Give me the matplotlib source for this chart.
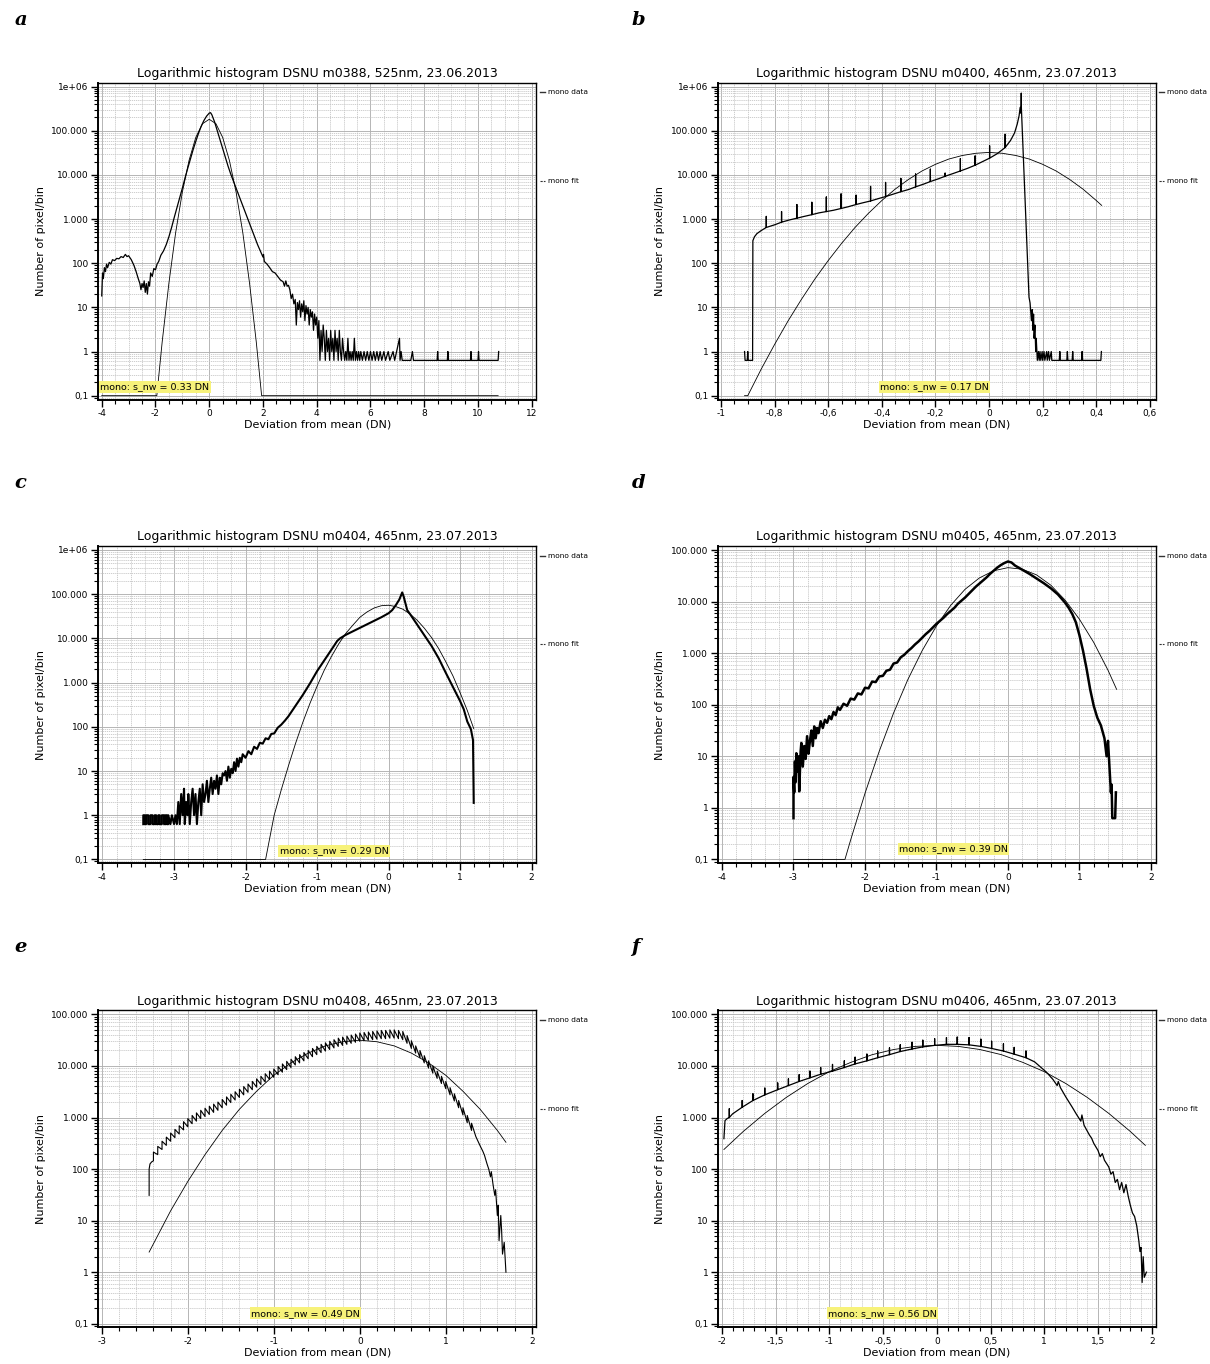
import matplotlib
matplotlib.use('Agg')
import matplotlib.pyplot as plt
from matplotlib.ticker import MultipleLocator, FuncFormatter, LogLocator, NullFormatter
import numpy as np

# Panel titles and fitted noise widths
titles = [
    'Logarithmic histogram DSNU m0388, 525nm, 23.06.2013',
    'Logarithmic histogram DSNU m0400, 465nm, 23.07.2013',
    'Logarithmic histogram DSNU m0404, 465nm, 23.07.2013',
    'Logarithmic histogram DSNU m0405, 465nm, 23.07.2013',
    'Logarithmic histogram DSNU m0408, 465nm, 23.07.2013',
    'Logarithmic histogram DSNU m0406, 465nm, 23.07.2013',
]
panel_letters = ['a', 'b', 'c', 'd', 'e', 'f']
s_nw = ['0.33', '0.17', '0.29', '0.39', '0.49', '0.56']

# All counts are stored as log10(number of pixel/bin)

# ---- a: m0388
a_data_x = [-4.0, -3.97, -3.94, -3.9, -3.86, -3.82, -3.78, -3.72, -3.66, -3.6, -3.52, -3.44, -3.36, -3.28,
            -3.2, -3.12, -3.06, -3.0, -2.9, -2.8, -2.72, -2.64, -2.58, -2.54, -2.5, -2.46, -2.42, -2.38,
            -2.34, -2.3, -2.26, -2.22, -2.18, -2.12, -2.06, -2.0, -1.94, -1.88, -1.8, -1.7, -1.6, -1.5,
            -1.4, -1.3, -1.2, -1.1, -1.0, -0.9, -0.8, -0.7, -0.6, -0.5, -0.4, -0.3, -0.2, -0.1, 0.0, 0.05,
            0.1, 0.2, 0.3, 0.4, 0.5, 0.6, 0.7, 0.8, 0.9, 1.0, 1.1, 1.2, 1.3, 1.4, 1.5, 1.6, 1.7, 1.8,
            1.9, 2.0, 2.02, 2.05, 2.15, 2.25, 2.35, 2.45, 2.55, 2.65, 2.75, 2.8, 2.85, 2.9, 2.95, 3.0,
            3.05, 3.1, 3.15, 3.2, 3.24, 3.28, 3.32, 3.36, 3.4, 3.44, 3.48, 3.52, 3.56, 3.6, 3.64, 3.68,
            3.72, 3.76, 3.8, 3.84, 3.88, 3.92, 3.96, 4.0, 4.04, 4.08, 4.12, 4.16, 4.2, 4.24, 4.28, 4.32,
            4.36, 4.4, 4.44, 4.48, 4.52, 4.56, 4.6, 4.64, 4.68, 4.72, 4.76, 4.8, 4.84, 4.88, 4.92, 4.96,
            5.0, 5.04, 5.08, 5.12, 5.16, 5.2, 5.24, 5.28, 5.32, 5.36, 5.4, 5.44, 5.48, 5.52, 5.56, 5.6,
            5.64, 5.7, 5.76, 5.82, 5.88, 5.94, 6.0, 6.06, 6.12, 6.18, 6.24, 6.3, 6.36, 6.42, 6.5, 6.56,
            6.66, 6.72, 6.84, 6.9, 7.08, 7.1, 7.14, 7.18, 7.5, 7.56, 7.6, 8.48, 8.5, 8.52, 8.86, 8.88,
            8.9, 9.72, 9.74, 9.76, 10.0, 10.02, 10.04, 10.75, 10.77]
a_data_lg = [1.26, 1.78, 1.65, 1.9, 1.81, 1.98, 1.9, 2.02, 1.98, 2.08, 2.06, 2.11, 2.1, 2.15,
             2.13, 2.2, 2.15, 2.17, 2.08, 1.95, 1.81, 1.65, 1.54, 1.4, 1.54, 1.45, 1.6, 1.34,
             1.54, 1.3, 1.58, 1.48, 1.78, 1.7, 1.88, 1.85, 1.98, 2.04, 2.18, 2.28, 2.42, 2.6,
             2.81, 3.04, 3.26, 3.48, 3.7, 3.93, 4.15, 4.36, 4.57, 4.76, 4.94, 5.1, 5.23, 5.33, 5.4, 5.41,
             5.36, 5.2, 5.0, 4.8, 4.6, 4.4, 4.2, 4.02, 3.86, 3.7, 3.54, 3.38, 3.22, 3.06, 2.9, 2.74, 2.58, 2.42,
             2.28, 2.14, 2.2, 2.04, 1.98, 1.9, 1.81, 1.78, 1.7, 1.62, 1.58, 1.48, 1.6, 1.48, 1.5, 1.4,
             1.2, 1.3, 1.08, 1.18, 0.6, 1.11, 0.95, 1.15, 0.78, 1.08, 0.9, 1.15, 0.7, 1.04, 0.85, 1.0,
             0.6, 0.95, 0.78, 0.9, 0.48, 0.85, 0.6, 0.78, 0.3, 0.7, -0.2, 0.48, 0.0, 0.6, 0.3, -0.2,
             0.48, 0.0, 0.3, -0.2, 0.48, 0.0, 0.3, -0.2, 0.48, 0.0, 0.3, -0.2, 0.48, 0.0, -0.2, 0.3,
             0.0, -0.2, 0.0, -0.2, 0.3, -0.2, 0.0, -0.2, 0.0, -0.2, 0.3, -0.2, 0.0, -0.2, 0.0, -0.2,
             0.0, -0.2, 0.0, -0.2, 0.0, -0.2, 0.0, -0.2, 0.0, -0.2, 0.0, -0.2, 0.0, -0.2, 0.0, -0.2,
             0.0, -0.2, 0.0, -0.2, 0.3, -0.2, 0.0, -0.2, -0.2, 0.0, -0.2, -0.2, 0.0, -0.2, -0.2, 0.0,
             -0.2, -0.2, 0.0, -0.2, -0.2, 0.0, -0.2, -0.2, 0.0]
a_fit_x = [-4.0, -1.95, -1.75, -1.5, -1.25, -1.0, -0.75, -0.5, -0.25, 0.0, 0.25, 0.5, 0.75, 1.0,
           1.25, 1.5, 1.75, 1.95, 10.75]
a_fit_lg = [-1.0, -1.0, 0.22, 1.55, 2.69, 3.61, 4.33, 4.85, 5.16, 5.26, 5.16, 4.85, 4.33, 3.61,
            2.69, 1.55, 0.22, -1.0, -1.0]

# ---- b: m0400 (smooth base plus periodic spikes)
b_base_x = [-0.912, -0.91, -0.902, -0.9, -0.898, -0.882, -0.881, -0.875, -0.866, -0.85, -0.831, -0.80,
            -0.774, -0.745, -0.717, -0.69, -0.661, -0.635, -0.607, -0.58, -0.552, -0.525, -0.496, -0.47,
            -0.442, -0.415, -0.386, -0.36, -0.329, -0.30, -0.274, -0.245, -0.219, -0.19, -0.164, -0.135,
            -0.107, -0.08, -0.052, -0.025, 0.002, 0.03, 0.06, 0.08, 0.095, 0.105, 0.112, 0.116, 0.118,
            0.12, 0.149, 0.153, 0.158, 0.161, 0.164, 0.166, 0.168, 0.171, 0.174, 0.176, 0.18, 0.184,
            0.187, 0.19, 0.193, 0.198, 0.2, 0.205, 0.208, 0.215, 0.217, 0.222, 0.225, 0.232, 0.234,
            0.262, 0.264, 0.266, 0.29, 0.292, 0.294, 0.31, 0.312, 0.314, 0.345, 0.347, 0.349, 0.417, 0.419]
b_base_lg = [0.0, -0.2, -0.2, 0.0, -0.2, -0.2, 2.51, 2.6, 2.67, 2.74, 2.81, 2.87,
             2.93, 2.98, 3.02, 3.06, 3.10, 3.14, 3.17, 3.2, 3.24, 3.28, 3.33, 3.37,
             3.41, 3.46, 3.51, 3.56, 3.62, 3.67, 3.73, 3.79, 3.85, 3.91, 3.97, 4.03,
             4.09, 4.15, 4.22, 4.3, 4.38, 4.48, 4.62, 4.78, 4.95, 5.15, 5.34, 5.53, 5.4,
             5.6, 1.23, 1.1, 0.7, 0.95, 0.48, 0.85, 0.3, 0.6, 0.0, 0.3, -0.2, 0.0,
             -0.2, 0.0, -0.2, 0.0, -0.2, 0.0, -0.2, 0.0, -0.2, 0.0, -0.2, 0.0, -0.2,
             -0.2, 0.0, -0.2, -0.2, 0.0, -0.2, -0.2, 0.0, -0.2, -0.2, 0.0, -0.2, -0.2, 0.0]
b_spike_x = [-0.831, -0.774, -0.717, -0.661, -0.607, -0.552, -0.496, -0.442, -0.386, -0.329, -0.274,
             -0.219, -0.164, -0.107, -0.052, 0.002, 0.06, 0.12]
b_spike_lg = [3.06, 3.17, 3.33, 3.38, 3.5, 3.57, 3.54, 3.74, 3.83, 3.92, 4.02,
              4.13, 4.04, 4.37, 4.43, 4.66, 4.92, 5.85]
b_fit_x = [-0.912, -0.9, -0.85, -0.8, -0.75, -0.7, -0.65, -0.6, -0.55, -0.5, -0.45, -0.4, -0.35, -0.3,
           -0.25, -0.2, -0.15, -0.1, -0.05, 0.0, 0.05, 0.1, 0.15, 0.2, 0.25, 0.3, 0.35, 0.4, 0.42]
b_fit_lg = [-1.0, -1.0, -0.4, 0.16, 0.69, 1.18, 1.64, 2.06, 2.45, 2.81, 3.13, 3.42, 3.68, 3.9,
            4.09, 4.24, 4.36, 4.44, 4.49, 4.51, 4.49, 4.44, 4.36, 4.24, 4.09, 3.9, 3.68, 3.42, 3.31]

# ---- c: m0404
c_data_x = [-3.43, -3.43, -3.41, -3.41, -3.39, -3.39, -3.36, -3.36, -3.33, -3.33, -3.3, -3.3, -3.27,
            -3.27, -3.25, -3.25, -3.22, -3.22, -3.2, -3.2, -3.17, -3.17, -3.14, -3.14, -3.12, -3.12,
            -3.1, -3.1, -3.08, -3.08, -3.05, -3.03, -3.0, -2.98, -2.96, -2.94, -2.92, -2.9, -2.88,
            -2.86, -2.85, -2.83, -2.81, -2.8, -2.78, -2.76, -2.74, -2.72, -2.7, -2.68, -2.66, -2.64,
            -2.62, -2.6, -2.58, -2.56, -2.54, -2.52, -2.5, -2.48, -2.46, -2.44, -2.42, -2.4, -2.38,
            -2.36, -2.34, -2.32, -2.3, -2.28, -2.26, -2.24, -2.22, -2.2, -2.18, -2.16, -2.14, -2.12,
            -2.1, -2.08, -2.06, -2.04, -2.0, -1.96, -1.92, -1.88, -1.84, -1.8, -1.76, -1.72, -1.68,
            -1.64, -1.6, -1.55, -1.5, -1.45, -1.4, -1.35, -1.3, -1.25, -1.2, -1.15, -1.1, -1.05, -1.0,
            -0.95, -0.9, -0.85, -0.8, -0.76, -0.72, -0.68, -0.6, -0.5, -0.4, -0.3, -0.2, -0.1, 0.0,
            0.05, 0.1, 0.15, 0.19, 0.21, 0.26, 0.3, 0.4, 0.5, 0.6, 0.7, 0.8, 0.9, 1.0, 1.05, 1.1,
            1.15, 1.18, 1.19]
c_data_lg = [-0.2, 0.0, 0.0, -0.2, -0.2, 0.0, 0.0, -0.2, -0.2, 0.0, 0.0, -0.2, -0.2,
             0.0, 0.0, -0.2, -0.2, 0.0, 0.0, -0.2, -0.2, 0.0, 0.0, -0.2, -0.2, 0.0,
             0.0, -0.2, -0.2, 0.0, -0.2, 0.0, -0.2, 0.0, -0.2, 0.3, -0.2, 0.48, 0.0,
             0.6, -0.2, 0.3, 0.0, 0.48, -0.2, 0.3, 0.6, 0.0, 0.48, -0.2, 0.3, 0.6,
             0.0, 0.7, 0.3, 0.48, 0.78, 0.3, 0.6, 0.85, 0.48, 0.78, 0.6, 0.9, 0.48,
             0.85, 0.7, 0.95, 0.9, 1.0, 0.78, 1.1, 0.85, 1.05, 0.95, 1.2, 1.0, 1.28,
             1.1, 1.3, 1.2, 1.38, 1.3, 1.45, 1.38, 1.55, 1.5, 1.64, 1.62, 1.74, 1.72,
             1.84, 1.85, 1.98, 2.05, 2.14, 2.24, 2.36, 2.48, 2.6, 2.72, 2.85, 2.98, 3.12, 3.26,
             3.38, 3.5, 3.62, 3.74, 3.84, 3.94, 4.0, 4.08, 4.16, 4.24, 4.32, 4.4, 4.48, 4.57,
             4.64, 4.75, 4.88, 5.04, 4.95, 4.64, 4.55, 4.31, 4.07, 3.83, 3.55, 3.22, 2.9, 2.58, 2.4, 2.12,
             1.95, 1.7, 0.28]
c_fit_x = [-3.43, -1.72, -1.6, -1.5, -1.4, -1.3, -1.2, -1.1, -1.0, -0.9, -0.8, -0.7, -0.6, -0.5, -0.4,
           -0.3, -0.2, -0.1, 0.0, 0.1, 0.2, 0.3, 0.4, 0.5, 0.6, 0.7, 0.8, 0.9, 1.0, 1.1, 1.19]
c_fit_lg = [-1.0, -1.0, 0.0, 0.58, 1.12, 1.63, 2.1, 2.53, 2.92, 3.28, 3.59, 3.87, 4.11, 4.3, 4.48,
            4.6, 4.69, 4.74, 4.75, 4.72, 4.66, 4.55, 4.41, 4.23, 4.02, 3.77, 3.47, 3.15, 2.77, 2.37, 1.96]

# ---- d: m0405
d_data_x = [-3.0, -3.0, -2.99, -2.98, -2.97, -2.96, -2.95, -2.93, -2.92, -2.9, -2.89, -2.87, -2.85,
            -2.83, -2.81, -2.79, -2.77, -2.75, -2.73, -2.71, -2.69, -2.67, -2.65, -2.62, -2.59, -2.56,
            -2.53, -2.5, -2.47, -2.44, -2.41, -2.38, -2.35, -2.3, -2.25, -2.2, -2.15, -2.1, -2.05, -2.0,
            -1.95, -1.9, -1.85, -1.8, -1.75, -1.7, -1.65, -1.6, -1.55, -1.5, -1.45, -1.4, -1.35, -1.3,
            -1.25, -1.2, -1.15, -1.1, -1.05, -1.0, -0.95, -0.9, -0.85, -0.8, -0.75, -0.7, -0.65, -0.6,
            -0.55, -0.5, -0.45, -0.4, -0.35, -0.3, -0.25, -0.2, -0.15, -0.1, -0.05, 0.0, 0.05, 0.1,
            0.2, 0.3, 0.4, 0.5, 0.6, 0.7, 0.8, 0.85, 0.9, 0.95, 1.0, 1.05, 1.1, 1.15, 1.2, 1.25, 1.3,
            1.35, 1.38, 1.4, 1.42, 1.44, 1.45, 1.46, 1.5, 1.51]
d_data_lg = [-0.2, 0.6, 0.3, 0.9, 0.5, 1.06, 0.7, 1.0, 0.32, 1.1, 1.26, 0.8, 1.2,
             0.95, 1.39, 1.05, 1.3, 1.5, 1.2, 1.58, 1.35, 1.55, 1.45, 1.68, 1.55, 1.71,
             1.65, 1.78, 1.72, 1.86, 1.8, 1.95, 1.9, 2.02, 1.98, 2.12, 2.1, 2.22, 2.2, 2.33,
             2.32, 2.45, 2.44, 2.55, 2.56, 2.66, 2.68, 2.8, 2.82, 2.92, 2.97, 3.04, 3.1, 3.17,
             3.23, 3.3, 3.37, 3.43, 3.5, 3.57, 3.63, 3.69, 3.76, 3.82, 3.88, 3.96, 4.02, 4.08,
             4.15, 4.22, 4.29, 4.35, 4.41, 4.47, 4.54, 4.6, 4.66, 4.71, 4.75, 4.78, 4.76, 4.7,
             4.62, 4.54, 4.45, 4.36, 4.26, 4.14, 3.98, 3.88, 3.76, 3.6, 3.35, 3.05, 2.7, 2.3, 1.98, 1.75, 1.6,
             1.35, 1.0, 1.3, 0.8, 0.3, 0.45, -0.2, -0.2, 0.3]
d_fit_x = [-3.0, -2.28, -2.2, -2.0, -1.8, -1.6, -1.4, -1.2, -1.0, -0.8, -0.6, -0.4, -0.2, 0.0, 0.2,
           0.4, 0.6, 0.8, 1.0, 1.2, 1.4, 1.52]
d_fit_lg = [-1.0, -1.0, -0.62, 0.28, 1.1, 1.84, 2.49, 3.05, 3.53, 3.93, 4.24, 4.46, 4.6, 4.66, 4.63,
            4.52, 4.32, 4.03, 3.66, 3.21, 2.67, 2.3]

# ---- e: m0408 (comb-like teeth on the data)
e_head_x = [-2.45, -2.45, -2.44, -2.42]
e_head_lg = [1.49, 2.0, 2.1, 2.14]
e_tooth_x = [-2.4, -2.35, -2.3, -2.25, -2.2, -2.15, -2.1, -2.05, -2.0,
             -1.95, -1.9, -1.85, -1.8, -1.75, -1.7, -1.65, -1.6, -1.55, -1.5,
             -1.45, -1.4, -1.35, -1.3, -1.25, -1.2, -1.15, -1.1, -1.05, -1.0,
             -0.95, -0.9, -0.85, -0.8, -0.75, -0.7, -0.65, -0.6, -0.55, -0.5,
             -0.45, -0.4, -0.35, -0.3, -0.25, -0.2, -0.15, -0.1, -0.05, 0.0,
             0.05, 0.1, 0.15, 0.2, 0.25, 0.3, 0.35, 0.4, 0.45, 0.5,
             0.55, 0.6, 0.65, 0.7, 0.75, 0.8, 0.85, 0.9, 0.95, 1.0,
             1.05, 1.1, 1.15, 1.2, 1.25, 1.3]
e_tooth_base = [2.16, 2.28, 2.38, 2.46, 2.54, 2.61, 2.68, 2.76, 2.82,
                2.88, 2.93, 2.98, 3.02, 3.06, 3.1, 3.14, 3.19, 3.24, 3.29,
                3.34, 3.39, 3.44, 3.49, 3.54, 3.59, 3.64, 3.69, 3.74, 3.78,
                3.83, 3.88, 3.93, 3.97, 4.02, 4.06, 4.1, 4.14, 4.18, 4.22,
                4.26, 4.29, 4.32, 4.35, 4.38, 4.4, 4.42, 4.44, 4.46, 4.48,
                4.49, 4.5, 4.51, 4.52, 4.53, 4.53, 4.54, 4.54, 4.53, 4.51,
                4.44, 4.34, 4.25, 4.16, 4.06, 3.96, 3.86, 3.76, 3.66, 3.56,
                3.44, 3.32, 3.19, 3.05, 2.9, 2.75]
e_tooth_top = [2.33, 2.44, 2.54, 2.62, 2.7, 2.77, 2.84, 2.92, 2.98,
               3.04, 3.09, 3.14, 3.18, 3.22, 3.26, 3.3, 3.35, 3.4, 3.45,
               3.5, 3.55, 3.6, 3.65, 3.7, 3.75, 3.8, 3.85, 3.9, 3.94,
               3.99, 4.04, 4.09, 4.13, 4.18, 4.22, 4.26, 4.3, 4.34, 4.38,
               4.42, 4.45, 4.48, 4.51, 4.54, 4.56, 4.58, 4.6, 4.62, 4.64,
               4.65, 4.66, 4.67, 4.68, 4.69, 4.69, 4.7, 4.7, 4.69, 4.67,
               4.59, 4.49, 4.39, 4.3, 4.2, 4.1, 4.0, 3.9, 3.8, 3.7,
               3.58, 3.46, 3.33, 3.19, 3.04, 2.89]
e_tail_x = [1.35, 1.4, 1.43, 1.45, 1.48, 1.5, 1.52, 1.53, 1.55, 1.57, 1.58, 1.6, 1.61, 1.62, 1.64,
            1.65, 1.66, 1.68, 1.7]
e_tail_lg = [2.63, 2.45, 2.35, 2.27, 2.1, 2.0, 1.85, 1.95, 1.7, 1.49, 1.6, 1.1, 1.3, 0.61, 1.1,
             0.8, 0.35, 0.58, 0.0]
e_fit_x = [-2.45, -2.2, -2.0, -1.8, -1.6, -1.4, -1.2, -1.0, -0.8, -0.6, -0.4, -0.2, 0.0, 0.2, 0.4,
           0.6, 0.8, 1.0, 1.2, 1.4, 1.6, 1.7]
e_fit_lg = [0.39, 1.19, 1.76, 2.28, 2.75, 3.16, 3.51, 3.82, 4.06, 4.25, 4.39, 4.47, 4.5, 4.47, 4.39,
            4.25, 4.06, 3.82, 3.51, 3.16, 2.75, 2.52]

# ---- f: m0406 (smooth base plus periodic spikes)
f_base_x = [-1.98, -1.97, -1.95, -1.93, -1.9, -1.81, -1.71, -1.6, -1.48, -1.38, -1.28, -1.18, -1.08,
            -0.97, -0.86, -0.76, -0.65, -0.55, -0.44, -0.34, -0.23, -0.13, -0.02, 0.09, 0.19, 0.3,
            0.41, 0.51, 0.62, 0.72, 0.83, 0.91, 1.02, 1.08, 1.12, 1.13, 1.15, 1.2, 1.26, 1.3, 1.34,
            1.35, 1.37, 1.42, 1.44, 1.46, 1.5, 1.52, 1.54, 1.56, 1.6, 1.62, 1.64, 1.66, 1.68, 1.7,
            1.72, 1.74, 1.76, 1.78, 1.8, 1.82, 1.84, 1.86, 1.88, 1.89, 1.9, 1.91, 1.92, 1.93, 1.95]
f_base_lg = [2.59, 2.94, 2.98, 3.0, 3.07, 3.2, 3.33, 3.44, 3.54, 3.62, 3.7, 3.77, 3.84,
             3.9, 3.97, 4.04, 4.1, 4.16, 4.22, 4.28, 4.33, 4.37, 4.4, 4.42, 4.42, 4.41,
             4.38, 4.34, 4.29, 4.23, 4.16, 4.08, 3.88, 3.74, 3.62, 3.7, 3.58, 3.4, 3.2, 3.06, 2.93,
             3.05, 2.85, 2.66, 2.6, 2.5, 2.36, 2.24, 2.3, 2.17, 2.04, 1.9, 1.95, 1.74, 1.8, 1.6,
             1.74, 1.54, 1.7, 1.48, 1.3, 1.15, 1.08, 0.9, 0.6, 0.4, 0.48, -0.2, 0.3, -0.1, 0.0]
f_spike_x = [-1.93, -1.81, -1.71, -1.6, -1.48, -1.38, -1.28, -1.18, -1.08, -0.97, -0.86, -0.76, -0.65,
             -0.55, -0.44, -0.34, -0.23, -0.13, -0.02, 0.09, 0.19, 0.3, 0.41, 0.51, 0.62, 0.72, 0.83]
f_spike_lg = [3.17, 3.33, 3.46, 3.57, 3.67, 3.75, 3.83, 3.9, 3.97, 4.03, 4.1, 4.17, 4.23,
              4.29, 4.35, 4.41, 4.46, 4.5, 4.53, 4.55, 4.56, 4.55, 4.52, 4.48, 4.43, 4.36, 4.29]
f_fit_x = [-1.98, -1.8, -1.6, -1.4, -1.2, -1.0, -0.8, -0.6, -0.4, -0.2, 0.0, 0.2, 0.4, 0.6, 0.8, 1.0,
           1.2, 1.4, 1.6, 1.8, 1.94]
f_fit_lg = [2.38, 2.73, 3.08, 3.39, 3.66, 3.89, 4.07, 4.22, 4.32, 4.38, 4.4, 4.38, 4.32, 4.22, 4.07, 3.89,
            3.66, 3.39, 3.08, 2.73, 2.46]

# ---- axes ranges (x in DN, y in log10) and tick spacing
x_limits = [(-4.12, 12.16), (-1.011, 0.621), (-4.056, 2.061), (-4.056, 2.065), (-3.039, 2.05), (-2.035, 2.035)]
y_limits = [(-1.09, 6.09), (-1.09, 6.09), (-1.08, 6.09), (-1.07, 5.08), (-1.07, 5.08), (-1.07, 5.08)]
x_major = [2, 0.2, 1, 1, 1, 0.5]
x_minor = [0.5, 0.05, 0.2, 0.2, 0.2, 0.1]
y_label_map = {-1: '0,1', 0: '1', 1: '10', 2: '100', 3: '1.000', 4: '10.000', 5: '100.000', 6: '1e+06'}


def with_spikes(bx, by, sx, sy):
    tops = dict(zip(sx, sy))
    xs, ys = [], []
    for x, y in zip(bx, by):
        xs.append(x)
        ys.append(y)
        if x in tops:
            xs += [x, x]
            ys += [tops[x], y]
    return xs, ys


def with_teeth(tx, tb, tt):
    xs, ys = [], []
    for x, b, t in zip(tx, tb, tt):
        xs += [x, x]
        ys += [b, t]
    return xs, ys


def xfmt(v, pos):
    v = round(v, 3)
    if abs(v) < 1e-9:
        return '0'
    return f'{v:g}'.replace('.', ',')


def yfmt(v, pos):
    k = int(round(np.log10(v)))
    return y_label_map.get(k, '')


def main():
    b_x, b_lg = with_spikes(b_base_x, b_base_lg, b_spike_x, b_spike_lg)
    f_x, f_lg = with_spikes(f_base_x, f_base_lg, f_spike_x, f_spike_lg)
    t_x, t_lg = with_teeth(e_tooth_x, e_tooth_base, e_tooth_top)
    e_x = e_head_x + t_x + e_tail_x
    e_lg = e_head_lg + t_lg + e_tail_lg

    data = [(a_data_x, a_data_lg), (b_x, b_lg), (c_data_x, c_data_lg),
            (d_data_x, d_data_lg), (e_x, e_lg), (f_x, f_lg)]
    fits = [(a_fit_x, a_fit_lg), (b_fit_x, b_fit_lg), (c_fit_x, c_fit_lg),
            (d_fit_x, d_fit_lg), (e_fit_x, e_fit_lg), (f_fit_x, f_fit_lg)]
    data_lw = [0.9, 0.9, 1.5, 1.8, 0.8, 0.9]

    fig = plt.figure(figsize=(12.1, 13.64), dpi=100)
    plt.rcParams['font.family'] = ['DejaVu Sans']

    col_x = [0.0814, 0.5934]
    row_y = [0.7070, 0.3673, 0.0269]
    w, h = 0.3616, 0.2324
    letter_y = [0.985, 0.646, 0.306]
    letter_x = [0.012, 0.522]

    for i in range(6):
        r, c = divmod(i, 2)
        ax = fig.add_axes([col_x[c], row_y[r], w, h])
        ax.set_yscale('log')

        dx, dlg = data[i]
        fx, flg = fits[i]
        ax.plot(fx, 10 ** np.array(flg), color='black', lw=0.6, zorder=3)
        ax.plot(dx, 10 ** np.array(dlg), color='black', lw=data_lw[i], zorder=4)

        ax.set_xlim(*x_limits[i])
        ax.set_ylim(10 ** y_limits[i][0], 10 ** y_limits[i][1])

        ax.xaxis.set_major_locator(MultipleLocator(x_major[i]))
        ax.xaxis.set_minor_locator(MultipleLocator(x_minor[i]))
        ax.xaxis.set_major_formatter(FuncFormatter(xfmt))
        ax.yaxis.set_major_locator(LogLocator(base=10, numticks=20))
        ax.yaxis.set_minor_locator(LogLocator(base=10, subs=np.arange(2, 10), numticks=20))
        ax.yaxis.set_major_formatter(FuncFormatter(yfmt))
        ax.yaxis.set_minor_formatter(NullFormatter())

        ax.tick_params(which='major', direction='out', length=5, width=1.0, labelsize=6.5, pad=2)
        ax.tick_params(which='minor', direction='out', length=3, width=0.8)

        ax.grid(which='major', color='#b0b0b0', lw=0.65, ls='-', zorder=0)
        ax.grid(which='minor', color='#c6c6c6', lw=0.6, ls=(0, (1.5, 1)), zorder=0)
        ax.set_axisbelow(True)

        for side in ['left', 'bottom']:
            ax.spines[side].set_linewidth(1.4)
        for side in ['top', 'right']:
            ax.spines[side].set_linewidth(1.0)

        ax.set_title(titles[i], fontsize=9, pad=4)
        ax.set_xlabel('Deviation from mean (DN)', fontsize=8, labelpad=1)
        ax.set_ylabel('Number of pixel/bin', fontsize=8, labelpad=4)

        # highlighted fit width label, right edge at x = 0
        ax.text(0, 10 ** -0.8, f'mono: s_nw = {s_nw[i]} DN', fontsize=6.8, ha='right', va='center',
                zorder=5, bbox=dict(facecolor='#f7f27a', edgecolor='none', pad=1.0))

        # legend entries outside the right edge
        ax.plot([1.008, 1.02], [0.97, 0.97], transform=ax.transAxes, color='#333333', lw=1.0, clip_on=False)
        ax.text(1.027, 0.97, 'mono data', transform=ax.transAxes, fontsize=5.3, va='center', ha='left')
        ax.plot([1.008, 1.02], [0.69, 0.69], transform=ax.transAxes, color='#333333', lw=0.8,
                ls=(0, (2, 1)), clip_on=False)
        ax.text(1.027, 0.69, 'mono fit', transform=ax.transAxes, fontsize=5.3, va='center', ha='left')

        fig.text(letter_x[c], letter_y[r], panel_letters[i], fontsize=14, fontweight='bold',
                 style='italic', family='DejaVu Serif', va='center', ha='left')

    fig.savefig('out.png', dpi=100)


if __name__ == '__main__':
    main()
